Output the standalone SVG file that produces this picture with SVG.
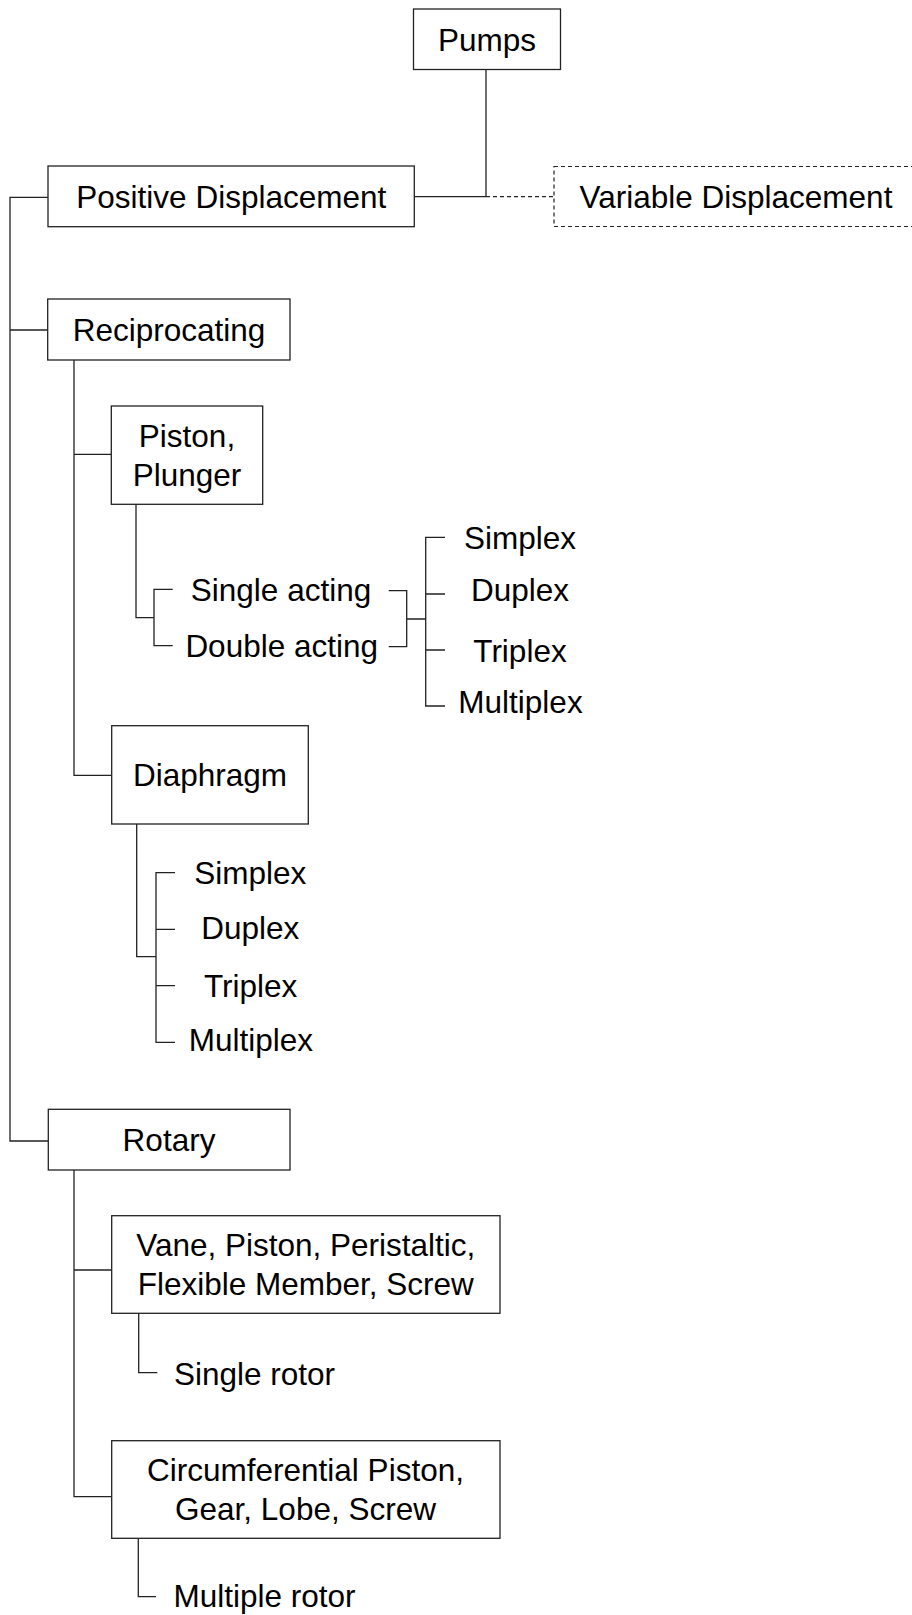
<svg xmlns="http://www.w3.org/2000/svg" width="912" height="1615" viewBox="0 0 912 1615">
<style>
.box{fill:#fff;stroke:#222;stroke-width:1.3}
.dbox{fill:#fff;stroke:#222;stroke-width:1.2;stroke-dasharray:4 3}
.ln{fill:none;stroke:#222;stroke-width:1.3}
.dl{fill:none;stroke:#222;stroke-width:1.2;stroke-dasharray:4 3}
text{font-family:"Liberation Sans",Arial,sans-serif;font-size:31.5px;fill:#000}
.c{text-anchor:middle}
</style>
<rect width="912" height="1615" fill="#fff"/>
<g id="connectors">
<path class="ln" d="M486 69.7V196.7M414.3 196.7H486"/>
<path class="dl" d="M486 196.7H554"/>
<path class="ln" d="M48.3 197.3H10V1141H48.3M10 330H47.7"/>
<path class="ln" d="M74 360V775.3H111.7M74 454.3H111.3"/>
<path class="ln" d="M136 504.3V617.7H154M172.7 589.3H154V645.7H172.7"/>
<path class="ln" d="M388.7 590.7H406.7V646.7H388.7M406.7 619H425.7"/>
<path class="ln" d="M445 537.3H425.7V706H445M425.7 594H445M425.7 650H445"/>
<path class="ln" d="M136.7 824V956.7H156M175 872.7H156V1042.3H175M156 929.3H175M156 985.7H175"/>
<path class="ln" d="M74 1170V1496.7H111.7M74 1270H111.7"/>
<path class="ln" d="M138.7 1313.3V1372.7H157.3"/>
<path class="ln" d="M138.3 1538.3V1596.7H156"/>
</g>
<g id="pumps"><rect class="box" x="413.5" y="9" width="147" height="60.5"/><text class="c" x="487" y="51">Pumps</text></g>
<g id="positive-displacement"><rect class="box" x="48" y="166" width="366.3" height="60.7"/><text class="c" x="231.3" y="207.6">Positive Displacement</text></g>
<g id="variable-displacement"><rect class="dbox" x="554" y="166.5" width="364" height="60"/><text class="c" x="736" y="208">Variable Displacement</text></g>
<g id="reciprocating"><rect class="box" x="47.7" y="299" width="242.3" height="61"/><text class="c" x="169" y="341">Reciprocating</text></g>
<g id="piston-plunger"><rect class="box" x="111.3" y="406" width="151.4" height="98.3"/><text class="c" x="187" y="446.7">Piston,</text><text class="c" x="187" y="486">Plunger</text></g>
<g id="single-acting"><text class="c" x="281" y="600.7">Single acting</text></g>
<g id="double-acting"><text class="c" x="281.7" y="656.7">Double acting</text></g>
<g id="pp-simplex"><text class="c" x="520" y="549.3">Simplex</text></g>
<g id="pp-duplex"><text class="c" x="520" y="600.7">Duplex</text></g>
<g id="pp-triplex"><text class="c" x="520" y="661.7">Triplex</text></g>
<g id="pp-multiplex"><text class="c" x="520.5" y="713.3">Multiplex</text></g>
<g id="diaphragm"><rect class="box" x="111.7" y="725.7" width="196.6" height="98.3"/><text class="c" x="210" y="786">Diaphragm</text></g>
<g id="d-simplex"><text class="c" x="250.3" y="883.5">Simplex</text></g>
<g id="d-duplex"><text class="c" x="250.3" y="938.5">Duplex</text></g>
<g id="d-triplex"><text class="c" x="250.7" y="997">Triplex</text></g>
<g id="d-multiplex"><text class="c" x="250.8" y="1050.5">Multiplex</text></g>
<g id="rotary"><rect class="box" x="48.3" y="1109.3" width="241.7" height="60.7"/><text class="c" x="169" y="1151">Rotary</text></g>
<g id="vane"><rect class="box" x="111.7" y="1215.7" width="388.3" height="97.6"/><text class="c" x="305.8" y="1256">Vane, Piston, Peristaltic,</text><text class="c" x="305.8" y="1295.3">Flexible Member, Screw</text></g>
<g id="single-rotor"><text x="174" y="1385">Single rotor</text></g>
<g id="circumferential"><rect class="box" x="111.7" y="1440.7" width="388.3" height="97.6"/><text class="c" x="305.5" y="1481">Circumferential Piston,</text><text class="c" x="305.5" y="1520.3">Gear, Lobe, Screw</text></g>
<g id="multiple-rotor"><text x="173.5" y="1607">Multiple rotor</text></g>
</svg>
